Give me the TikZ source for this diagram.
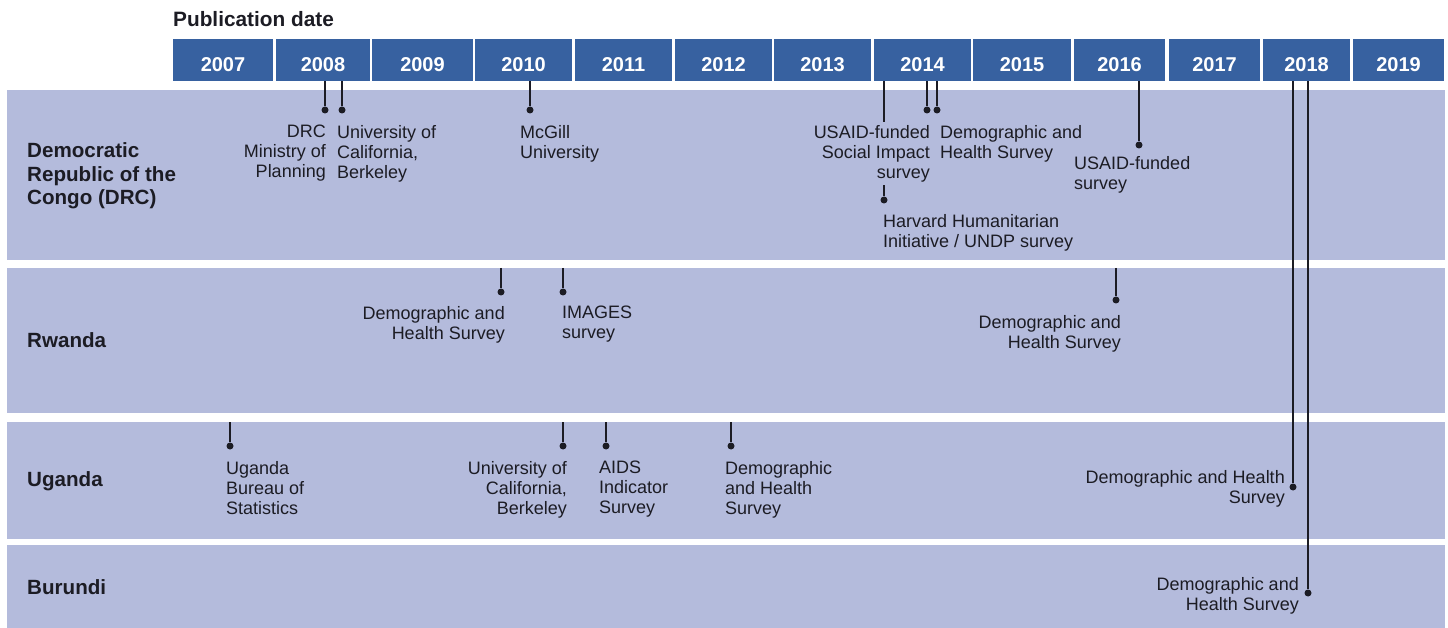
\documentclass[tikz,border=0pt]{standalone}
\usepackage{fontspec}
\setmainfont{Liberation Sans}
\definecolor{hdrblue}{HTML}{3761A0}
\definecolor{bandblue}{HTML}{B4BBDC}
\definecolor{ink}{HTML}{1C1C24}

\begin{document}
\begin{tikzpicture}[x=1pt, y=-1pt,
    yearbox/.style={fill=hdrblue, text=white, font=\fontsize{20}{24}\selectfont\bfseries, minimum height=42, inner sep=0, text height=23pt, text depth=0pt},
    band/.style={fill=bandblue, minimum width=1438, inner sep=0, anchor=north west},
    country/.style={font=\fontsize{20.6}{23.5}\selectfont\bfseries, text=ink, align=left, anchor=west, inner sep=0},
    note/.style={font=\fontsize{18}{20}\selectfont, text=ink, inner sep=0},
    dot/.style={circle, fill=ink, minimum size=7, inner sep=0},
    tick/.style={ink, line width=1.3}]
        \useasboundingbox (0,0) rectangle (1448,628);

        \node[font=\fontsize{20.8}{24}\selectfont\bfseries, text=ink, anchor=base west, inner sep=0] (title) at (173,26.5) {Publication date};
        \foreach \yr/\a/\b in {2007/173/273, 2008/276/370, 2009/372/473, 2010/475/572, 2011/575/672, 2012/675/772, 2013/774/871, 2014/874/971, 2015/973/1071, 2016/1074/1165, 2017/1169/1260, 2018/1263/1350, 2019/1353/1444} {
            \node[yearbox, minimum width=\b-\a] (y\yr) at ({(\a+\b)/2},60) {\yr};
        }
        \foreach \name/\top/\h in {drc/90/170, rw/268/145, ug/422/117, bu/545/83} {
            \node[band, minimum height=\h] (b\name) at (7,\top) {};
        }

        \node[country] (cdrc) at (27,176) {Democratic\\Republic of the\\Congo (DRC)};
        \node[country] (crw) at (27,340) {Rwanda};
        \node[country] (cug) at (27,481) {Uganda};
        \node[country] (cbu) at (27,587) {Burundi};

        \node[dot] (drc08a) at (325,110) {};
        \node[dot] (drc08b) at (342,110) {};
        \node[dot] (drc10) at (530,110) {};
        \node[dot] (drc14a) at (884,200) {};
        \node[dot] (drc14b) at (927,110) {};
        \node[dot] (drc14c) at (937,110) {};
        \node[dot] (drc16) at (1139,145) {};
        \node[dot] (rw10a) at (501,292) {};
        \node[dot] (rw10b) at (563,292) {};
        \node[dot] (rw16) at (1116,300) {};
        \node[dot] (ug07) at (230,446) {};
        \node[dot] (ug10) at (563,446) {};
        \node[dot] (ug11) at (606,446) {};
        \node[dot] (ug12) at (731,446) {};
        \node[dot] (ug18) at (1293,487) {};
        \node[dot] (bu18) at (1308,593) {};

        \draw[tick] (drc08a |- y2008.south) -- (drc08a);
        \draw[tick] (drc08b |- y2008.south) -- (drc08b);
        \draw[tick] (drc10 |- y2010.south) -- (drc10);
        \draw[tick] (drc14a |- y2014.south) -- (drc14a);
        \draw[tick] (drc14b |- y2014.south) -- (drc14b);
        \draw[tick] (drc14c |- y2014.south) -- (drc14c);
        \draw[tick] (drc16 |- y2016.south) -- (drc16);
        \draw[tick] (rw10a |- brw.north) -- (rw10a);
        \draw[tick] (rw10b |- brw.north) -- (rw10b);
        \draw[tick] (rw16 |- brw.north) -- (rw16);
        \draw[tick] (ug07 |- bug.north) -- (ug07);
        \draw[tick] (ug10 |- bug.north) -- (ug10);
        \draw[tick] (ug11 |- bug.north) -- (ug11);
        \draw[tick] (ug12 |- bug.north) -- (ug12);
        \draw[tick] (ug18 |- y2018.south) -- (ug18);
        \draw[tick] (bu18 |- y2018.south) -- (bu18);

        \node[note, anchor=north east, align=right] (ndrc08a) at (326,125) {DRC\\Ministry of\\Planning};
        \node[note, anchor=north west, align=left] (ndrc08b) at (337,125) {University of\\California,\\Berkeley};
        \node[note, anchor=north west, align=left] (ndrc10) at (520,125) {McGill\\University};
        \node[note, anchor=north east, align=right, fill=bandblue, inner sep=3] (ndrc14b) at (933,122) {USAID-funded\\Social Impact\\survey};
        \node[note, anchor=north west, align=left] (ndrc14c) at (940,125) {Demographic and\\Health Survey};
        \node[note, anchor=north west, align=left] (ndrc14a) at (883,214) {Harvard Humanitarian\\Initiative / UNDP survey};
        \node[note, anchor=north west, align=left] (ndrc16) at (1074,156) {USAID-funded\\survey};

        \node[note, anchor=north east, align=right] (nrw10a) at (505,306) {Demographic and\\Health Survey};
        \node[note, anchor=north west, align=left] (nrw10b) at (562,306) {IMAGES\\survey};
        \node[note, anchor=north east, align=right] (nrw16) at (1121,315) {Demographic and\\Health Survey};

        \node[note, anchor=north west, align=left] (nug07) at (226,461) {Uganda\\Bureau of\\Statistics};
        \node[note, anchor=north east, align=right] (nug10) at (567,461) {University of\\California,\\Berkeley};
        \node[note, anchor=north west, align=left] (nug11) at (599,461) {AIDS\\Indicator\\Survey};
        \node[note, anchor=north west, align=left] (nug12) at (725,461) {Demographic\\and Health\\Survey};
        \node[note, anchor=north east, align=right] (nug18) at (1285,470) {Demographic and Health\\Survey};

        \node[note, anchor=north east, align=right] (nbu18) at (1299,577) {Demographic and\\Health Survey};

    \end{tikzpicture}
\end{document}
